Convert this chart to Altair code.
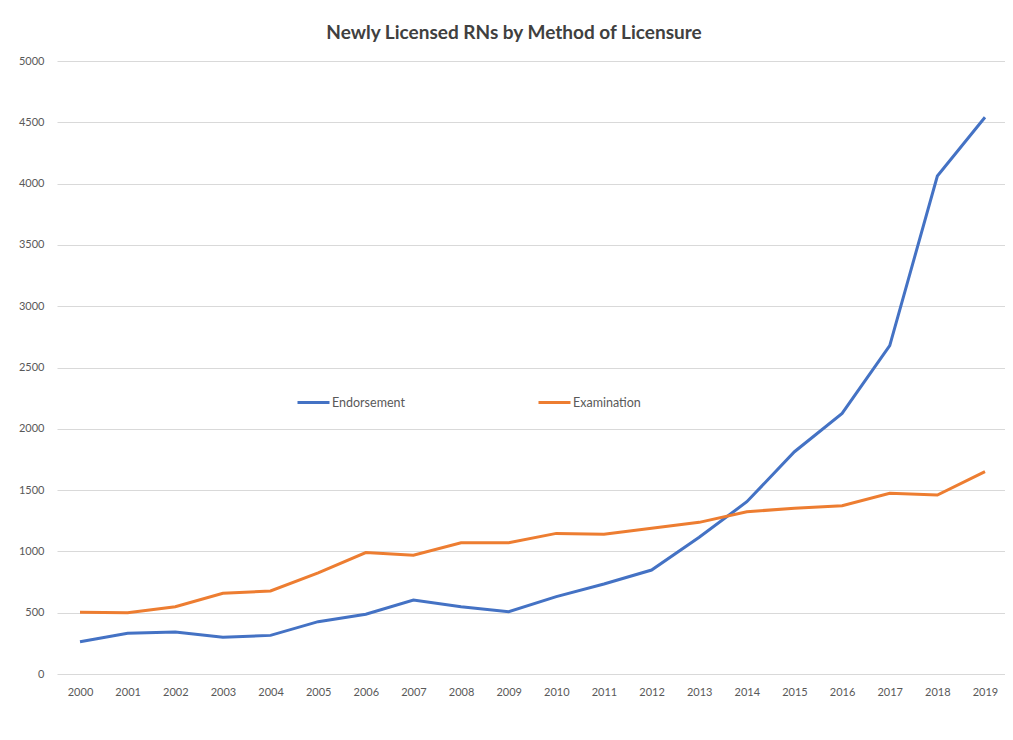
import altair as alt
import pandas as pd

years = [2000, 2001, 2002, 2003, 2004, 2005, 2006, 2007, 2008, 2009,
         2010, 2011, 2012, 2013, 2014, 2015, 2016, 2017, 2018, 2019]
endorsement = [263, 332, 342, 299, 315, 427, 487, 603, 549, 508,
               631, 734, 848, 1115, 1405, 1813, 2126, 2678, 4062, 4541]
examination = [503, 500, 549, 658, 677, 825, 990, 968, 1071, 1071,
               1147, 1139, 1188, 1237, 1324, 1351, 1373, 1474, 1460, 1650]
series_names = ["Endorsement", "Examination"]
series_colors = ["#4472C4", "#ED7D31"]
y_ticks = [0, 500, 1000, 1500, 2000, 2500, 3000, 3500, 4000, 4500, 5000]

rows = []
for name, vals in zip(series_names, [endorsement, examination]):
    for y, v in zip(years, vals):
        rows.append({"Year": y, "Value": v, "Series": name})
df = pd.DataFrame(rows)

FONT = "Lato"
chart = alt.Chart(df).mark_line(strokeWidth=3).encode(
    x=alt.X("Year:Q",
            scale=alt.Scale(domain=[1999.517, 2019.42], nice=False, zero=False),
            axis=alt.Axis(title=None, values=years, format="d", labelAngle=0, ticks=False,
                          domain=False, grid=False, labelPadding=12, labelFontSize=11,
                          labelColor="#595959", labelFont=FONT)),
    y=alt.Y("Value:Q",
            scale=alt.Scale(domain=[0, 5000], nice=False),
            axis=alt.Axis(title=None, values=y_ticks, format="d", ticks=False, domain=False,
                          gridColor="#d9d9d9", gridWidth=1, labelPadding=13,
                          labelFontSize=11, labelColor="#595959", labelFont=FONT)),
    color=alt.Color("Series:N",
                    scale=alt.Scale(domain=series_names, range=series_colors),
                    legend=alt.Legend(title=None, orient="none", direction="horizontal",
                                      legendX=239, legendY=324,
                                      symbolType="stroke", symbolSize=1024, symbolStrokeWidth=3,
                                      labelOffset=1, columnPadding=127,
                                      labelFontSize=12.5, labelColor="#595959", labelFont=FONT)),
).properties(
    width=948,
    height=613,
    background="white",
    title=alt.Title("Newly Licensed RNs by Method of Licensure", font=FONT, fontSize=19,
                    fontWeight="bold", color="#404040", anchor="middle", frame="group",
                    dx=-17, offset=12),
    autosize=alt.AutoSizeParams(type="none"),
    padding={"left": 49, "top": 53, "right": 0, "bottom": 60},
).configure_view(stroke=None)

chart.save("out.html", embed_options={"renderer": "svg", "actions": False})
